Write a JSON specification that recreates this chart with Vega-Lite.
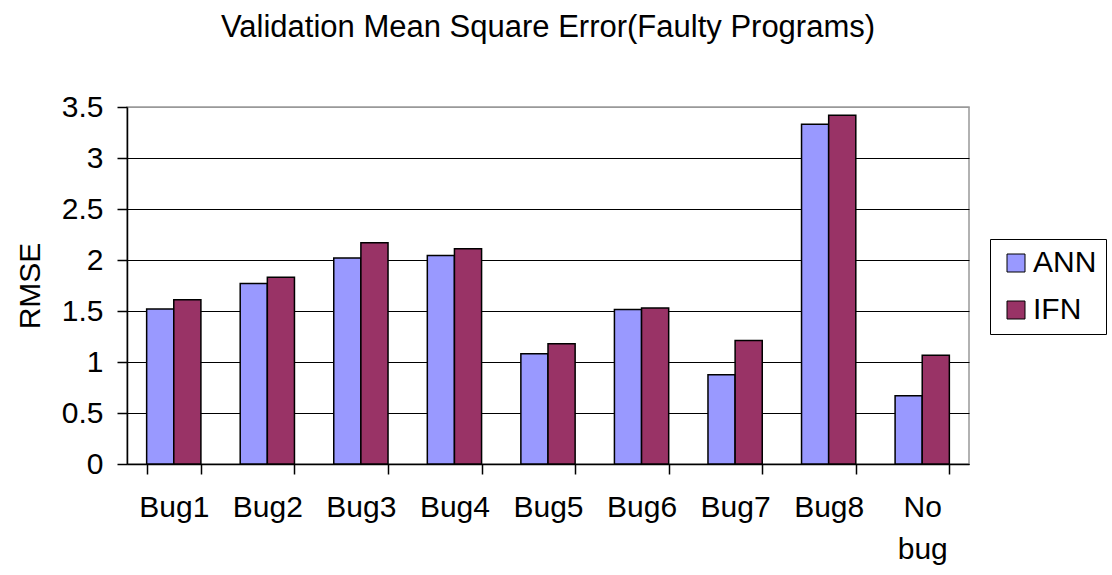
{
  "$schema": "https://vega.github.io/schema/vega-lite/v6.json",
  "width": 842,
  "height": 357,
  "autosize": {"type": "none"},
  "padding": {"left": 127, "top": 107, "right": 143, "bottom": 111},
  "background": "white",
  "config": {
    "font": "Liberation Sans",
    "view": {"stroke": "#999999", "strokeWidth": 1.5}
  },
  "title": {
    "text": "Validation Mean Square Error(Faulty Programs)",
    "fontSize": 31,
    "fontWeight": "normal",
    "font": "Liberation Sans",
    "color": "#000000",
    "anchor": "middle",
    "frame": "group",
    "offset": 48
  },
  "data": {
    "values": [
      {"bug": "Bug1", "model": "ANN", "rmse": 1.52},
      {"bug": "Bug1", "model": "IFN", "rmse": 1.61},
      {"bug": "Bug2", "model": "ANN", "rmse": 1.77},
      {"bug": "Bug2", "model": "IFN", "rmse": 1.83},
      {"bug": "Bug3", "model": "ANN", "rmse": 2.02},
      {"bug": "Bug3", "model": "IFN", "rmse": 2.17},
      {"bug": "Bug4", "model": "ANN", "rmse": 2.045},
      {"bug": "Bug4", "model": "IFN", "rmse": 2.11},
      {"bug": "Bug5", "model": "ANN", "rmse": 1.08},
      {"bug": "Bug5", "model": "IFN", "rmse": 1.18},
      {"bug": "Bug6", "model": "ANN", "rmse": 1.515},
      {"bug": "Bug6", "model": "IFN", "rmse": 1.53},
      {"bug": "Bug7", "model": "ANN", "rmse": 0.875},
      {"bug": "Bug7", "model": "IFN", "rmse": 1.21},
      {"bug": "Bug8", "model": "ANN", "rmse": 3.33},
      {"bug": "Bug8", "model": "IFN", "rmse": 3.42},
      {"bug": "No bug", "model": "ANN", "rmse": 0.67},
      {"bug": "No bug", "model": "IFN", "rmse": 1.065}
    ]
  },
  "mark": {"type": "bar", "stroke": "#000000", "strokeWidth": 1.5},
  "encoding": {
    "x": {
      "field": "bug",
      "type": "nominal",
      "sort": null,
      "scale": {"paddingInner": 0.42, "paddingOuter": 0.21},
      "axis": {
        "title": null,
        "labelAngle": 0,
        "labelFontSize": 30,
        "labelColor": "#000000",
        "labelPadding": 18,
        "labelLineHeight": 42,
        "labelExpr": "datum.value == 'No bug' ? ['No', 'bug'] : datum.value",
        "tickBand": "extent",
        "tickSize": 10,
        "tickColor": "#000000",
        "tickWidth": 1.5,
        "domainColor": "#000000",
        "domainWidth": 1.5,
        "grid": false
      }
    },
    "xOffset": {"field": "model", "type": "nominal"},
    "y": {
      "field": "rmse",
      "type": "quantitative",
      "scale": {"domain": [0, 3.5], "nice": false},
      "axis": {
        "title": "RMSE",
        "titleFontSize": 30,
        "titleFontWeight": "normal",
        "titleColor": "#000000",
        "titlePadding": 16,
        "values": [0, 0.5, 1, 1.5, 2, 2.5, 3, 3.5],
        "labelFontSize": 30,
        "labelColor": "#000000",
        "labelPadding": 14,
        "labelExpr": "datum.value",
        "tickSize": 10,
        "tickColor": "#000000",
        "tickWidth": 1.5,
        "domainColor": "#000000",
        "domainWidth": 1.5,
        "grid": true,
        "gridColor": {"condition": {"test": "datum.value == 3.5", "value": "#999999"}, "value": "#000000"},
        "gridWidth": 1.2
      }
    },
    "color": {
      "field": "model",
      "type": "nominal",
      "scale": {"domain": ["ANN", "IFN"], "range": ["#9999FF", "#993366"]},
      "legend": {
        "title": null,
        "orient": "none",
        "legendX": 863,
        "legendY": 132,
        "padding": 9,
        "strokeColor": "#000000",
        "symbolType": "square",
        "symbolSize": 324,
        "symbolStrokeColor": "#000000",
        "symbolStrokeWidth": 1,
        "symbolOffset": 2,
        "labelFontSize": 30,
        "labelColor": "#000000",
        "labelOffset": 2,
        "rowPadding": 17
      }
    }
  }
}
